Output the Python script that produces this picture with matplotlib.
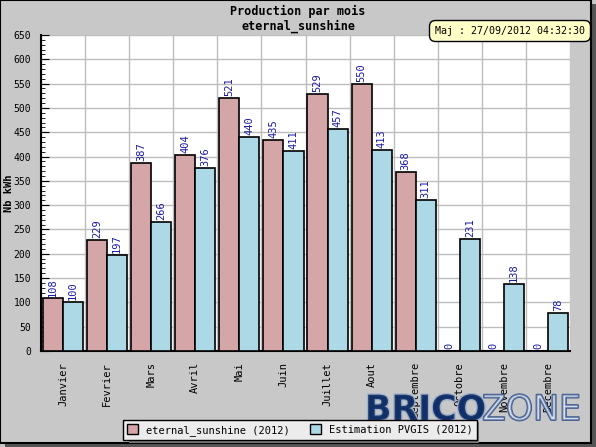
import matplotlib.pyplot as plt
from matplotlib.patches import Rectangle
import matplotlib.patheffects as pe
import numpy as np

mois = ["Janvier", "Fevrier", "Mars", "Avril", "Mai", "Juin", "Juillet",
        "Aout", "Septembre", "Octobre", "Novembre", "Decembre"]
production = [108, 229, 387, 404, 521, 435, 529, 550, 368, 0, 0, 0]
estimation = [100, 197, 266, 376, 440, 411, 457, 413, 311, 231, 138, 78]

mono = "DejaVu Sans Mono"
col_prod = "#d4a6a8"
col_est = "#add8e6"
col_lbl = "#1a1aa0"
bg = "#c8c8c8"

fig = plt.figure(figsize=(5.96, 4.47), dpi=100)
fig.patch.set_facecolor(bg)

# cadre + ombre
fig.patches.append(Rectangle((0.008, 0.0), 0.992, 0.99, transform=fig.transFigure,
                             facecolor="#555555", edgecolor="none", zorder=-2))
fig.patches.append(Rectangle((0.0, 0.01), 0.992, 0.99, transform=fig.transFigure,
                             facecolor=bg, edgecolor="black", lw=1.5, zorder=-1))

ax = fig.add_axes([41 / 596, 1 - 351 / 447, 529 / 596, 316 / 447])
ax.set_facecolor("white")

x = np.arange(len(mois))
w = 0.455
off = 0.045
ax.bar(x + off, production, width=w, align="edge", color=col_prod,
       edgecolor="black", lw=1.2, zorder=3)
ax.bar(x + off + w, estimation, width=w, align="edge", color=col_est,
       edgecolor="black", lw=1.2, zorder=3)

for i in range(len(mois)):
    ax.text(x[i] + off + w / 2, production[i] + 4, str(production[i]), rotation=90,
            ha="center", va="bottom", color=col_lbl, fontsize=7.5, family=mono, zorder=4)
    ax.text(x[i] + off + 1.5 * w, estimation[i] + 4, str(estimation[i]), rotation=90,
            ha="center", va="bottom", color=col_lbl, fontsize=7.5, family=mono, zorder=4)

ax.set_xlim(0, 12)
ax.set_ylim(0, 650)
ax.set_yticks(range(0, 651, 50))
ax.set_yticks(range(0, 651, 10), minor=True)
ax.set_xticks(x + 0.5)
ax.set_xticklabels(mois, rotation=90, family=mono, fontsize=7.5)
ax.set_xticks(range(13), minor=True)
ax.tick_params(axis="x", which="major", length=0, pad=8)
ax.tick_params(axis="x", which="minor", length=0)
ax.tick_params(axis="y", which="major", direction="in", length=6, labelsize=7, pad=7)
ax.tick_params(axis="y", which="minor", direction="in", length=3)
for lbl in ax.get_yticklabels():
    lbl.set_family(mono)

ax.grid(True, which="minor", axis="x", color="#bdbdbd", lw=1, zorder=0)
ax.grid(True, which="major", axis="y", color="#bdbdbd", lw=1, zorder=0)

for s in ["top", "right"]:
    ax.spines[s].set_visible(False)
ax.spines["left"].set_lw(1.5)
ax.spines["bottom"].set_lw(1.5)

ax.set_ylabel("Nb kWh", family=mono, fontweight="bold", fontsize=7.5)
ax.yaxis.set_label_coords(-27 / 529, 0.5)
fig.text(0.5, 0.958, "Production par mois\neternal_sunshine", ha="center", va="center",
         family=mono, fontweight="bold", fontsize=8.5, linespacing=1.15)

fig.text(510 / 596, 1 - 31 / 447, "Maj : 27/09/2012 04:32:30", ha="center", va="center",
         family=mono, fontsize=7.2,
         bbox=dict(boxstyle="round,pad=0.55,rounding_size=0.6", facecolor="#ffffc8",
                   edgecolor="black", lw=1))

# légende en bas
fig.patches.append(Rectangle((129 / 596, 1 - 443 / 447), 350 / 596, 21 / 447,
                             transform=fig.transFigure, facecolor="#777777",
                             edgecolor="none"))
leg = fig.legend(handles=[Rectangle((0, 0), 1, 1, facecolor=col_prod, edgecolor="black"),
                          Rectangle((0, 0), 1, 1, facecolor=col_est, edgecolor="black")],
                 labels=["eternal_sunshine (2012)", "Estimation PVGIS (2012)"],
                 loc="center", bbox_to_anchor=(300 / 596, 1 - 430 / 447), ncol=2,
                 prop={"family": mono, "size": 7.5}, fancybox=False, framealpha=1,
                 facecolor="#ececec", edgecolor="black", handlelength=1.0,
                 handleheight=1.0, borderpad=0.4, columnspacing=2.0)

# filigrane
fig.text(365 / 596, 1 - 410 / 447, "BRICO", ha="left", va="center", fontsize=25,
         fontweight="bold", color="#0f2e66", alpha=0.9, family="DejaVu Sans",
         path_effects=[pe.withStroke(linewidth=2, foreground="#9fb0cc")])
fig.text(482 / 596, 1 - 410 / 447, "ZONE", ha="left", va="center", fontsize=25,
         color=(0.85, 0.88, 0.94, 0.35), family="DejaVu Sans",
         path_effects=[pe.Stroke(linewidth=1.3, foreground="#24467f", alpha=0.85),
                       pe.Normal()])

fig.savefig("out.png", dpi=100, facecolor=fig.get_facecolor())
